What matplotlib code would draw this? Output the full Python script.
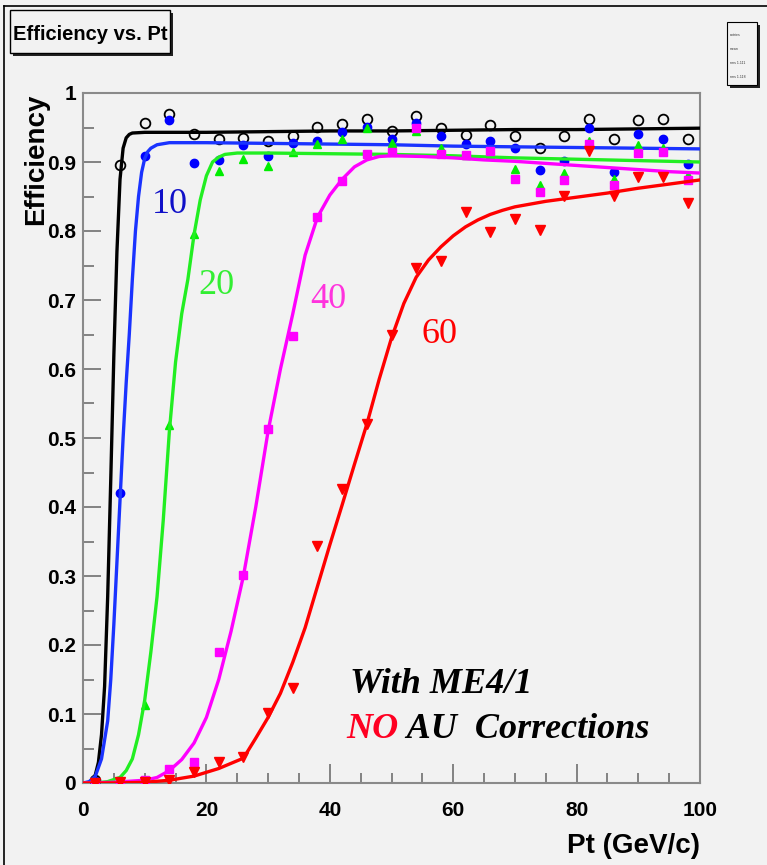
import matplotlib
matplotlib.use('Agg')
from matplotlib import pyplot as plt
from matplotlib.patches import Rectangle
from matplotlib.lines import Line2D
from matplotlib.ticker import MultipleLocator

# Punkty pomiarowe (Pt w GeV/c)
pt = [2, 6, 10, 14, 18, 22, 26, 30, 34, 38, 42, 46, 50,
      54, 58, 62, 66, 70, 74, 78, 82, 86, 90, 94, 98]

eff_0 = [0.005, 0.895, 0.956, 0.970, 0.940, 0.934, 0.935, 0.930, 0.937, 0.951, 0.955, 0.963, 0.945,
         0.966, 0.950, 0.939, 0.953, 0.937, 0.921, 0.938, 0.963, 0.933, 0.961, 0.962, 0.933]
eff_10 = [0.003, 0.420, 0.909, 0.961, 0.898, 0.903, 0.924, 0.909, 0.928, 0.930, 0.943, 0.951, 0.934,
          0.957, 0.937, 0.926, 0.930, 0.920, 0.888, 0.901, 0.950, 0.885, 0.940, 0.934, 0.897]
eff_20 = [0.0, 0.003, 0.113, 0.519, 0.796, 0.887, 0.904, 0.894, 0.914, 0.926, 0.933, 0.950, 0.928,
          0.945, 0.921, 0.910, 0.912, 0.890, 0.867, 0.884, 0.930, 0.875, 0.925, 0.920, 0.881]
eff_40 = [0.0, 0.0, 0.004, 0.020, 0.030, 0.190, 0.301, 0.513, 0.648, 0.820, 0.872, 0.911, 0.915,
          0.949, 0.911, 0.910, 0.916, 0.876, 0.856, 0.874, 0.926, 0.867, 0.913, 0.915, 0.874]
eff_60 = [0.0, 0.001, 0.002, 0.005, 0.016, 0.030, 0.038, 0.101, 0.137, 0.343, 0.426, 0.520, 0.649,
          0.746, 0.756, 0.827, 0.799, 0.818, 0.801, 0.851, 0.916, 0.851, 0.878, 0.878, 0.840]

# Krzywe dopasowania
fit_x0 = [0, 1, 1.5, 2, 2.5, 3, 3.5, 4, 4.5, 5, 5.5, 6, 6.5, 7, 7.5, 8, 10, 20, 30, 40, 50, 60, 70, 80, 90, 100]
fit_y0 = [0, 0, 0.004, 0.012, 0.03, 0.07, 0.14, 0.27, 0.44, 0.62, 0.77, 0.875, 0.92, 0.935, 0.94, 0.942,
          0.943, 0.943, 0.944, 0.945, 0.945, 0.946, 0.947, 0.947, 0.948, 0.949]

fit_x10 = [0, 1, 2, 3, 4, 4.5, 5, 5.5, 6, 6.5, 7, 7.5, 8, 8.5, 9, 9.5, 10, 10.5, 11, 12, 14,
           20, 30, 40, 50, 60, 70, 80, 90, 100]
fit_y10 = [0, 0.002, 0.01, 0.035, 0.09, 0.15, 0.23, 0.32, 0.41, 0.50, 0.58, 0.65, 0.73, 0.80, 0.85,
           0.885, 0.905, 0.915, 0.92, 0.925, 0.928, 0.928, 0.927, 0.926, 0.925, 0.923, 0.922, 0.921, 0.920, 0.919]

fit_x20 = [0, 2, 4, 6, 7, 8, 9, 10, 11, 12, 13, 14, 15, 16, 17, 18, 19, 20, 21, 22, 23, 25,
           30, 40, 50, 60, 70, 80, 90, 100]
fit_y20 = [0, 0, 0.002, 0.008, 0.018, 0.035, 0.07, 0.12, 0.19, 0.27, 0.38, 0.51, 0.61, 0.68, 0.73,
           0.795, 0.845, 0.88, 0.90, 0.907, 0.911, 0.913, 0.913, 0.912, 0.911, 0.909, 0.906, 0.904, 0.902, 0.900]

fit_x40 = [0, 5, 10, 12, 14, 16, 18, 20, 22, 24, 26, 28, 30, 32, 34, 36, 38, 40, 42, 44, 46, 48,
           50, 55, 60, 65, 70, 75, 80, 85, 90, 95, 100]
fit_y40 = [0, 0.001, 0.004, 0.008, 0.018, 0.034, 0.058, 0.095, 0.15, 0.22, 0.30, 0.40, 0.51, 0.60,
           0.68, 0.765, 0.82, 0.852, 0.875, 0.893, 0.903, 0.908, 0.909, 0.908, 0.906, 0.903, 0.901,
           0.898, 0.895, 0.892, 0.889, 0.886, 0.884]

fit_x60 = [0, 5, 10, 14, 18, 22, 26, 28, 30, 32, 34, 36, 38, 40, 42, 44, 46, 48, 50, 52, 54, 56,
           58, 60, 62, 64, 66, 68, 70, 75, 80, 85, 90, 95, 100]
fit_y60 = [0, 0, 0.001, 0.004, 0.01, 0.021, 0.036, 0.065, 0.095, 0.13, 0.175, 0.225, 0.285, 0.345,
           0.403, 0.462, 0.52, 0.585, 0.645, 0.695, 0.733, 0.758, 0.777, 0.793, 0.806, 0.816, 0.824,
           0.830, 0.835, 0.843, 0.849, 0.855, 0.862, 0.868, 0.874]

y_ticks = [0, 0.1, 0.2, 0.3, 0.4, 0.5, 0.6, 0.7, 0.8, 0.9, 1.0]
y_tick_labels = ['0', '0.1', '0.2', '0.3', '0.4', '0.5', '0.6', '0.7', '0.8', '0.9', '1']
x_ticks = [0, 20, 40, 60, 80, 100]

W, H = 767, 865
tlo = '#f2f2f2'
plt.rcParams['font.family'] = ['Liberation Sans', 'DejaVu Sans']


def px(x, y):
    return x / W, 1 - y / H


fig = plt.figure(figsize=(W / 100, H / 100), dpi=100, facecolor=tlo)
ax = fig.add_axes([83 / W, 1 - 783 / H, 617 / W, 690 / H], facecolor=tlo)

# Serie: punkty + dopasowanie
ax.plot(pt, eff_0, 'o', ms=7, mfc='none', mec='k', mew=1.3, zorder=3)
ax.plot(fit_x0, fit_y0, '-', color='k', lw=2.4, zorder=3)
ax.plot(pt, eff_10, 'o', ms=6, color='#0000ff', zorder=4)
ax.plot(fit_x10, fit_y10, '-', color='#1a33ff', lw=2.4, zorder=4)
ax.plot(pt, eff_20, '^', ms=6, color='#00ee00', zorder=5)
ax.plot(fit_x20, fit_y20, '-', color='#22ee22', lw=2.4, zorder=5)
ax.plot(pt, eff_40, 's', ms=6, color='#ff00ff', zorder=6)
ax.plot(fit_x40, fit_y40, '-', color='#ff00ff', lw=2.4, zorder=6)
ax.plot(pt, eff_60, 'v', ms=6.5, color='#ff0000', zorder=7)
ax.plot(fit_x60, fit_y60, '-', color='#ff0000', lw=2.4, zorder=7)

ax.set_xlim(0, 100)
ax.set_ylim(0, 1)
ax.set_xticks(x_ticks)
ax.set_yticks(y_ticks)
ax.set_yticklabels(y_tick_labels)
ax.xaxis.set_minor_locator(MultipleLocator(5))
ax.yaxis.set_minor_locator(MultipleLocator(0.05))
ax.tick_params(which='both', direction='in', color='#707070', width=1.2,
               labelsize=15, labelcolor='k')
ax.tick_params(axis='x', which='major', length=14, pad=13)
ax.tick_params(axis='x', which='minor', length=7)
ax.tick_params(axis='y', which='major', length=13, pad=5)
ax.tick_params(axis='y', which='minor', length=8)
for lab in ax.get_xticklabels() + ax.get_yticklabels():
    lab.set_fontweight('bold')
for sp in ax.spines.values():
    sp.set_color('#8a8a8a')
    sp.set_linewidth(1.5)

ax.set_xlabel('Pt (GeV/c)', fontsize=20, fontweight='bold', loc='right', labelpad=9)
fig.text(*px(36, 94), 'Efficiency', rotation=90, ha='center', va='top',
         fontsize=20, fontweight='bold')

# Opisy krzywych
serif = ['Liberation Serif', 'DejaVu Serif']
ax.text(11.1, 0.826, '10', color='#1010c8', fontsize=26, family=serif)
ax.text(18.7, 0.709, '20', color='#33ee33', fontsize=26, family=serif)
ax.text(36.8, 0.688, '40', color='#ff33dd', fontsize=26, family=serif)
ax.text(54.9, 0.638, '60', color='#ff0000', fontsize=26, family=serif)

ax.text(43.3, 0.131, 'With ME4/1', color='k', fontsize=26, family=serif,
        fontweight='bold', fontstyle='italic', zorder=10)
t_no = ax.text(42.7, 0.065, 'NO', color='#ff0022', fontsize=26, family=serif,
               fontweight='bold', fontstyle='italic', zorder=10)
ax.annotate(' AU  Corrections', xy=(1, 0), xycoords=t_no, va='bottom', ha='left',
            color='k', fontsize=26, family=serif, fontweight='bold',
            fontstyle='italic', zorder=10)

# Ramka tytulu z cieniem
x0, y0 = px(13, 56)
fig.add_artist(Rectangle((x0, y0), 160 / W, 43 / H, transform=fig.transFigure,
                         facecolor='#222222', edgecolor='none'))
x0, y0 = px(10, 53)
fig.add_artist(Rectangle((x0, y0), 160 / W, 43 / H, transform=fig.transFigure,
                         facecolor=tlo, edgecolor='k', lw=1))
fig.text(*px(13, 40), 'Efficiency vs. Pt', ha='left', va='baseline', fontsize=14.5,
         fontweight='bold')

# Mala legenda w rogu
x0, y0 = px(730, 88)
fig.add_artist(Rectangle((x0, y0), 30 / W, 63 / H, transform=fig.transFigure,
                         facecolor='#222222', edgecolor='none'))
x0, y0 = px(727, 85)
fig.add_artist(Rectangle((x0, y0), 30 / W, 63 / H, transform=fig.transFigure,
                         facecolor=tlo, edgecolor='k', lw=0.8))
legenda = ['entries', 'mean', 'rms 1.111', 'rms 1.118']
for i, s in enumerate(legenda):
    fig.text(*px(730, 35 + 14 * i), s, fontsize=2.5, color='#333333', va='center')

# Ramka calego obrazka
fig.add_artist(Line2D([4 / W, 4 / W], [0, 1 - 6 / H], transform=fig.transFigure, color='k', lw=1.2))
fig.add_artist(Line2D([4 / W, 1], [1 - 6 / H, 1 - 6 / H], transform=fig.transFigure, color='k', lw=1.2))

fig.savefig('out.png', dpi=100, facecolor=fig.get_facecolor())
